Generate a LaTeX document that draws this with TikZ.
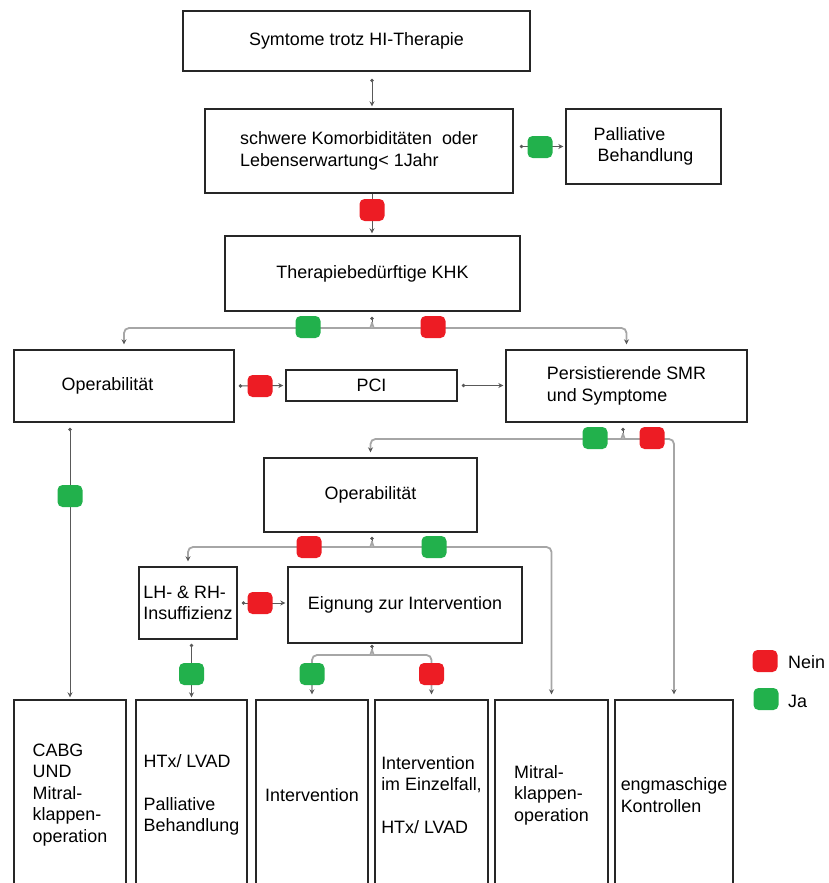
\documentclass[tikz,border=0pt]{standalone}
\usepackage{fontspec}
\setmainfont{Liberation Sans}
\usetikzlibrary{arrows.meta}
\definecolor{neinrot}{RGB}{237,28,36}
\definecolor{jagruen}{RGB}{34,177,76}
\definecolor{rahmen}{RGB}{38,38,38}
\definecolor{pfeilgrau}{RGB}{89,89,89}
\definecolor{zweiggrau}{RGB}{166,166,166}

\begin{document}
\begin{tikzpicture}[x=1pt,y=-1pt,
    font=\fontsize{17.9}{21.5}\selectfont,
    kasten/.style={draw=rahmen, line width=1.4pt, fill=white, align=left, inner sep=2pt},
    endkasten/.style={kasten, minimum height=190pt},
    marke/.style={rounded corners=5pt, minimum width=25pt, minimum height=22pt, inner sep=0pt},
    neinmarke/.style={marke, fill=neinrot},
    jamarke/.style={marke, fill=jagruen},
    pfeil/.style={draw=pfeilgrau, line width=0.9pt, -{Stealth[length=5pt,width=5pt]}, shorten >=2pt},
    verb/.style={pfeil, {Circle[length=3.5pt]}-{Stealth[length=5pt,width=5pt]}, shorten <=5pt},
    stiel/.style={draw=pfeilgrau, line width=0.9pt, {Circle[length=3.5pt]}-, shorten <=5pt},
    zweig/.style={draw=zweiggrau, line width=1.8pt, rounded corners=5pt,
        -{Stealth[length=5pt,width=5pt,color=pfeilgrau]}, shorten >=5pt}
    ]
    \useasboundingbox (0,0) rectangle (828,883);
    \clip (0,0) rectangle (828,883);

    % Kaesten
    \node[kasten, minimum width=347pt, minimum height=60pt] (symptome) at (356.5,41) {Symtome trotz HI-Therapie};
    \node[kasten, minimum width=308pt, minimum height=84pt] (komorb) at (359,151) {schwere Komorbiditäten\ \ oder\\Lebenserwartung< 1Jahr};
    \node[kasten, minimum width=155pt, minimum height=75pt] (palliativ) at (643.5,146.5) {Palliative\\\hspace*{4pt}Behandlung};
    \node[kasten, minimum width=295pt, minimum height=75pt] (khk) at (372.5,273.5) {Therapiebedürftige KHK};
    \node[kasten, minimum width=220pt, minimum height=72pt] (opl) at (124,386) {Operabilität\hspace*{33pt}};
    \node[kasten, minimum width=171pt, minimum height=31pt] (pci) at (371.5,385.5) {PCI};
    \node[kasten, minimum width=241pt, minimum height=72pt] (smr) at (626.5,386) {Persistierende SMR\\und Symptome};
    \node[kasten, minimum width=213pt, minimum height=74pt] (opr) at (370.5,495) {Operabilität};
    \node[kasten, minimum width=98pt, minimum height=72pt] (lhrh) at (188,603) {LH- \& RH-\\Insuffizienz};
    \node[kasten, minimum width=234pt, minimum height=76pt] (eignung) at (405,605) {Eignung zur Intervention};

    % Endpunkte
    \node[endkasten, minimum width=112pt] (cabg) at (70,795) {CABG\\UND\\Mitral-\\klappen-\\operation};
    \node[endkasten, minimum width=111pt] (htx) at (191.5,795) {HTx/ LVAD\\[21.5pt]Palliative\\Behandlung};
    \node[endkasten, minimum width=112pt] (interv) at (312,795) {Intervention};
    \node[endkasten, minimum width=113pt] (einzel) at (431.5,795) {Intervention\\im Einzelfall,\\[21.5pt]HTx/ LVAD};
    \node[endkasten, minimum width=113pt] (mitral) at (551.5,795) {Mitral-\\klappen-\\operation};
    \node[endkasten, minimum width=118pt] (kontrol) at (674,795) {engmaschige\\Kontrollen};

    % Verbindungen
    \coordinate (achse) at (372,0);
    \draw[verb, shorten <=7pt] (symptome.south -| achse) -- (komorb.north -| achse);
    \draw[pfeil] (komorb.south -| achse) -- (khk.north -| achse);
    \draw[verb, shorten <=6pt] (komorb.east |- palliativ.west) -- (palliativ.west);
    \draw[verb, shorten <=4pt] (opl.east) -- (pci.west);
    \draw[verb, shorten <=4pt] (pci.east) -- (pci.east -| smr.west);
    \draw[verb] (opl.south -| cabg.north) -- (cabg.north);
    \draw[verb, shorten <=4pt] (lhrh.east) -- (lhrh.east -| eignung.west);
    \draw[verb, shorten <=4pt] (lhrh.south -| htx.north) -- (htx.north);

    \coordinate (gabel1) at (372,322);
    \draw[stiel] (khk.south -| gabel1) -- (gabel1);
    \draw[zweig] (gabel1) to[out=-90,in=0] ++(-6,6) -| (opl.north);
    \draw[zweig] (gabel1) to[out=-90,in=180] ++(6,6) -| (smr.north);

    \coordinate (gabel2) at (623,433);
    \draw[stiel] (smr.south -| gabel2) -- (gabel2);
    \draw[zweig] (gabel2) to[out=-90,in=0] ++(-6,6) -| (opr.north);
    \draw[zweig] (gabel2) to[out=-90,in=180] ++(6,6) -| (kontrol.north);

    \coordinate (gabel3) at (372,541);
    \draw[stiel, shorten <=4pt] (opr.south -| gabel3) -- (gabel3);
    \draw[zweig] (gabel3) to[out=-90,in=0] ++(-6,6) -| (lhrh.north);
    \draw[zweig] (gabel3) to[out=-90,in=180] ++(6,6) -| (mitral.north);

    \coordinate (gabel4) at (372,649);
    \draw[stiel, shorten <=1pt] (eignung.south -| gabel4) -- (gabel4);
    \draw[zweig] (gabel4) to[out=-90,in=0] ++(-6,6) -| (interv.north);
    \draw[zweig] (gabel4) to[out=-90,in=180] ++(6,6) -| (einzel.north);

    % Ja/Nein-Marken
    \node[neinmarke] (nein1) at (372,210) {};
    \node[jamarke] (ja1) at (540,147) {};
    \node[jamarke] (ja2) at (308,327) {};
    \node[neinmarke] (nein2) at (433,327) {};
    \node[neinmarke] (nein3) at (260,386) {};
    \node[jamarke] (ja3) at (70,496) {};
    \node[jamarke] (ja4) at (595,438) {};
    \node[neinmarke] (nein4) at (652,438) {};
    \node[neinmarke] (nein5) at (309,547) {};
    \node[jamarke] (ja5) at (434,547) {};
    \node[neinmarke] (nein6) at (260,603) {};
    \node[jamarke] (ja6) at (191.5,674) {};
    \node[jamarke] (ja7) at (312,674) {};
    \node[neinmarke] (nein7) at (431.5,674) {};

    % Legende
    \node[neinmarke] (legnein) at (765,661) {};
    \node[anchor=west, inner sep=0pt] (legneintext) at (788,662) {Nein};
    \node[jamarke] (legja) at (766,699) {};
    \node[anchor=west, inner sep=0pt] (legjatext) at (788,701) {Ja};
\end{tikzpicture}
\end{document}
